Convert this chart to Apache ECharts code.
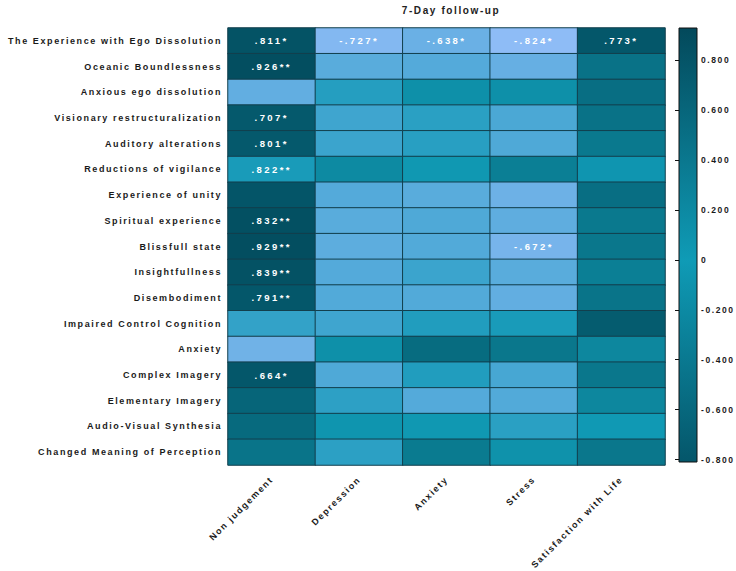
<!DOCTYPE html>
<html>
<head>
<meta charset="utf-8">
<script src="https://cdn.jsdelivr.net/npm/echarts@6/dist/echarts.min.js"></script>
<style>
  html, body { margin: 0; padding: 0; background: #fff; }
  #main { width: 736px; height: 571px; }
  /* spaced-out lettering like the original figure */
  #main text { letter-spacing: 1.6px; }
  #main text[fill="#fff"], #main text[fill="#ffffff"], #main text[fill="rgb(255,255,255)"] { letter-spacing: 2.4px; }
</style>
</head>
<body>
<div id="main"></div>
<script>
const rows = [
  "The Experience with Ego Dissolution", "Oceanic Boundlessness", "Anxious ego dissolution",
  "Visionary restructuralization", "Auditory alterations", "Reductions of vigilance",
  "Experience of unity", "Spiritual experience", "Blissfull state", "Insightfullness",
  "Disembodiment", "Impaired Control Cognition", "Anxiety", "Complex Imagery",
  "Elementary Imagery", "Audio-Visual Synthesia", "Changed Meaning of Perception"
];
const cols = ["Non judgement", "Depression", "Anxiety", "Stress", "Satisfaction with Life"];

// values, one array per column (top row first)
const nonJudgement = [0.85, 0.92, -0.52, 0.78, 0.78, -0.05, 0.82, 0.88, 0.92, 0.86, 0.8, -0.2, -0.62, 0.8, 0.65, 0.6, 0.48];
const depression = [-0.76, -0.45, -0.12, -0.27, -0.25, 0.2, -0.42, -0.45, -0.48, -0.42, -0.4, -0.27, 0.12, -0.38, -0.17, 0.06, -0.16];
const anxiety = [-0.58, -0.42, 0.12, -0.15, -0.14, 0.02, -0.45, -0.38, -0.4, -0.25, -0.4, -0.1, 0.58, -0.1, -0.42, 0.02, 0.4];
const stress = [-0.84, -0.55, 0.12, -0.35, -0.38, 0.35, -0.6, -0.5, -0.67, -0.45, -0.52, -0.05, 0.45, -0.32, -0.4, -0.15, 0.1];
const satisfaction = [0.8, 0.5, 0.55, 0.5, 0.42, 0.05, 0.55, 0.42, 0.45, 0.35, 0.48, 0.75, 0.25, 0.45, 0.25, 0.0, 0.45];

// significant correlations printed in the cells: [row, column, text]
const sigLabels = [
  [0, 0, ".811*"], [0, 1, "-.727*"], [0, 2, "-.638*"], [0, 3, "-.824*"], [0, 4, ".773*"],
  [1, 0, ".926**"], [3, 0, ".707*"], [4, 0, ".801*"], [5, 0, ".822**"], [7, 0, ".832**"],
  [8, 0, ".929**"], [8, 3, "-.672*"], [9, 0, ".839**"], [10, 0, ".791**"], [13, 0, ".664*"]
];

const scaleTicks = [-0.8, -0.6, -0.4, -0.2, 0, 0.2, 0.4, 0.6, 0.8];
const scaleMin = -0.81;
const scaleMax = 0.93;

const columns = [nonJudgement, depression, anxiety, stress, satisfaction];
const labelMap = {};
sigLabels.forEach(([r, c, t]) => { labelMap[c + "-" + r] = t; });

const cells = [];
columns.forEach((vals, c) => {
  vals.forEach((v, r) => cells.push([c, r, v]));
});

const FONT = "Liberation Sans";
const chart = echarts.init(document.getElementById("main"), null, { renderer: "svg" });

// colour bar gradient: dark at the top, bright teal around 0, dark again at the bottom
const zeroPos = scaleMax / (scaleMax - scaleMin);
const barGradient = new echarts.graphic.LinearGradient(0, 0, 0, 1, [
  { offset: 0, color: "#03495b" },
  { offset: zeroPos, color: "#0f9bb6" },
  { offset: 1, color: "#04566a" }
]);

chart.setOption({
  animation: false,
  title: {
    text: "7-Day follow-up",
    left: 446,
    top: 0,
    textAlign: "center",
    textStyle: { fontFamily: FONT, fontSize: 10, fontWeight: "bold", color: "#222" }
  },
  grid: [
    { left: 228, top: 28, width: 437, height: 437 },
    { left: 679, top: 28, width: 18, height: 434, show: true, backgroundColor: barGradient, borderColor: "#111", borderWidth: 1 }
  ],
  xAxis: [
    {
      type: "category",
      data: cols,
      gridIndex: 0,
      axisLine: { show: false },
      axisTick: { show: false },
      splitArea: { show: false },
      axisLabel: {
        rotate: 45,
        margin: 13,
        interval: 0,
        fontFamily: FONT,
        fontSize: 9,
        fontWeight: "bold",
        color: "#1a1a1a"
      }
    },
    { type: "value", gridIndex: 1, show: false, min: 0, max: 1 }
  ],
  yAxis: [
    {
      type: "category",
      data: rows,
      inverse: true,
      gridIndex: 0,
      axisLine: { show: false },
      axisTick: { show: false },
      axisLabel: {
        margin: 6,
        interval: 0,
        padding: [3, 0, 0, 0],
        fontFamily: FONT,
        fontSize: 9,
        fontWeight: "bold",
        color: "#1a1a1a"
      }
    },
    {
      type: "value",
      gridIndex: 1,
      position: "right",
      min: scaleMin,
      max: scaleMax,
      axisLine: { show: false },
      splitLine: { show: false },
      axisTick: { show: true, inside: true, length: 4, customValues: scaleTicks, lineStyle: { color: "#111" } },
      axisLabel: {
        customValues: scaleTicks,
        margin: 4,
        fontFamily: FONT,
        fontSize: 8.5,
        fontWeight: "bold",
        color: "#1a1a1a",
        formatter: (v) => (Math.abs(v) < 1e-9 ? "0" : v.toFixed(3))
      }
    }
  ],
  visualMap: {
    show: false,
    seriesIndex: 0,
    min: -0.9,
    max: 0.9,
    inRange: {
      color: ["#96bffa", "#6db1e6", "#44a6d2", "#1099b4", "#0c8399", "#076a7e", "#034e60"]
    }
  },
  series: [
    {
      type: "heatmap",
      xAxisIndex: 0,
      yAxisIndex: 0,
      data: cells,
      itemStyle: { borderColor: "#123f4d", borderWidth: 1 },
      label: {
        show: true,
        color: "#fff",
        fontFamily: FONT,
        fontSize: 9.5,
        fontWeight: "bold",
        formatter: (p) => labelMap[p.data[0] + "-" + p.data[1]] || ""
      },
      emphasis: { disabled: true }
    }
  ]
});
</script>
</body>
</html>
